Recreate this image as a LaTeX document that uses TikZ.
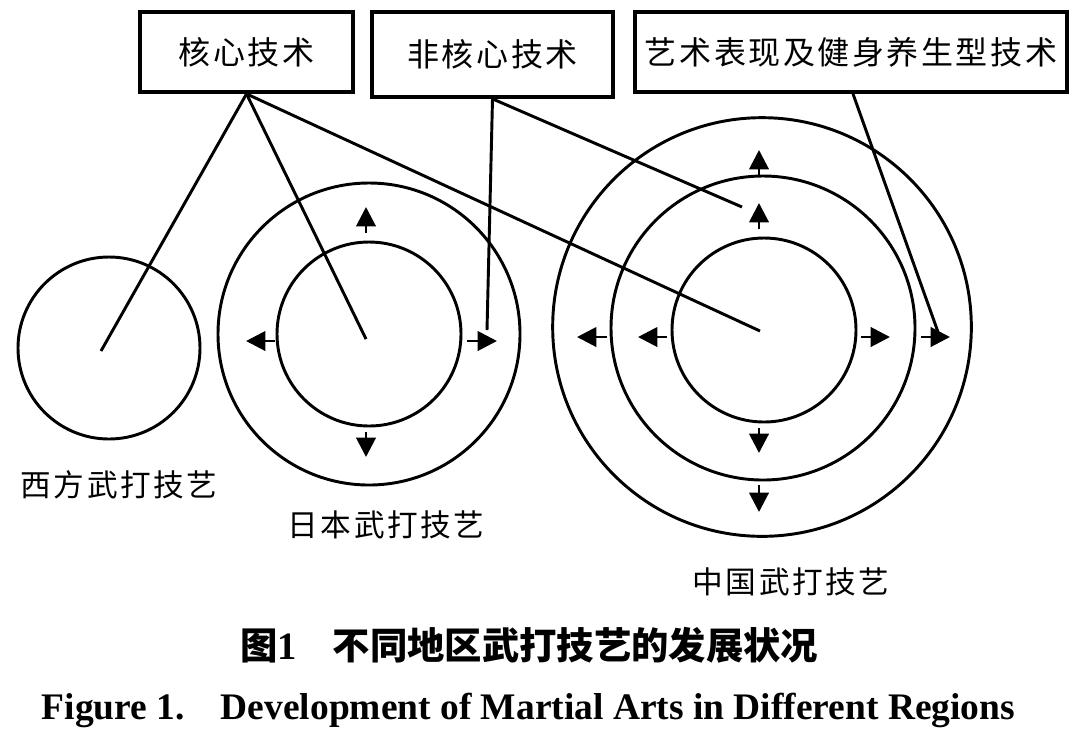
\documentclass[tikz,border=0pt]{standalone}
\usepackage{fontspec}
\setmainfont{Liberation Serif}
\newfontfamily\cjk[LetterSpace=8]{Noto Sans CJK SC}
\newfontfamily\cjkcap{Noto Sans CJK SC}
\usetikzlibrary{arrows.meta}
\newcommand\cjkboxfont{\cjk\fontsize{24}{28}\selectfont}
\newcommand\cjklabfont{\cjk\fontsize{23}{27}\selectfont}
\begin{document}
\begin{tikzpicture}[x=0.75pt,y=-0.75pt,
  ring/.style={circle,draw,line width=2.2pt,inner sep=0pt},
  tbox/.style={draw,line width=2.8pt,inner sep=0pt,font=\cjkboxfont},
  link/.style={line width=2.2pt},
  arr/.style={line width=2.2pt,-{Triangle[length=14.5pt,width=14.5pt]}},
  lab/.style={font=\cjklabfont,inner sep=0pt}]
\fill[white] (0,0) rectangle (1080,744);
\useasboundingbox (0,0) rectangle (1080,744);
% boxes
\node[tbox,minimum width=159.75pt,minimum height=60pt] (b1) at (246.5,52) {核心技术};
\node[tbox,minimum width=180.75pt,minimum height=63.75pt] (b2) at (492.5,54.5) {非核心技术};
\node[tbox,minimum width=324pt,minimum height=60pt] (b3) at (851,52) {艺术表现及健身养生型技术};
% circles
\node[ring,minimum size=136.5pt] (west) at (109,348) {};
\node[ring,minimum size=226.5pt] (jpo) at (369,334) {};
\node[ring,minimum size=138pt] (jpi) at (369,334) {};
\node[ring,minimum size=314pt] (cno) at (762,327) {};
\node[ring,minimum size=228pt] (cnm) at (763,328) {};
\node[ring,minimum size=138pt] (cni) at (764,330) {};
% connector ends
\coordinate (wend) at (101,351);
\coordinate (jend) at (366,339);
\coordinate (cend) at (760,331);
\coordinate (nj) at (487,330);
\coordinate (nc) at (742,207);
\coordinate (ac) at (938,332);
\draw[link] (b1.south) -- (wend);
\draw[link] (b1.south) -- (jend);
\draw[link] (b1.south) -- (cend);
\draw[link] (b2.south) -- (nj);
\draw[link] (b2.south) -- (nc);
\draw[link] ([xshift=1.5pt]b3.south) -- (ac);
% Japan arrows
\draw[arr] (366,233) -- (366,207);
\draw[arr] (366,432) -- (366,457);
\draw[arr] (275,341) -- (246,341);
\draw[arr] (467,341) -- (497,341);
% China arrows
\draw[arr] (759,175) -- (759,150);
\draw[arr] (759,229) -- (759,203);
\draw[arr] (759,428) -- (759,453);
\draw[arr] (759,485) -- (759,512);
\draw[arr] (607,337) -- (577,337);
\draw[arr] (667,337) -- (638,337);
\draw[arr] (861,337) -- (890,337);
\draw[arr] (921,337) -- (950,337);
% labels
\node[lab] (lw) at (119,485) {西方武打技艺};
\node[lab] (lj) at (386,525) {日本武打技艺};
\node[lab] (lc) at (791,582) {中国武打技艺};
% captions
\node[anchor=west,inner sep=0pt] (cap1) at (240,645)
  {{\cjkcap\bfseries\fontsize{28}{32}\selectfont 图}{\bfseries\fontsize{29}{32}\selectfont 1}\hspace{27pt}{\cjkcap\bfseries\fontsize{28}{32}\selectfont 不同地区武打技艺的发展状况}};
\node[inner sep=0pt] (cap2) at (528.5,710)
  {\bfseries\fontsize{28.1}{30}\selectfont Figure 1.\hspace{27pt}Development of Martial Arts in Different Regions};
\end{tikzpicture}
\end{document}
